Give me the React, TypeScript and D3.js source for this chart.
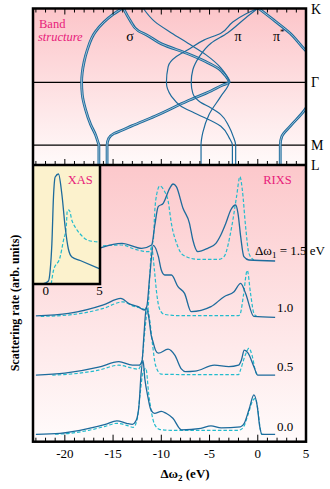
import React from "react";
import * as d3 from "d3";

const W = 330;
const H = 489;

// ---------- axis values ----------
const energyDomain = [-23.3, 5.0];
const majorTicks = [-20, -15, -10, -5, 0, 5];
const minorTicks = d3.range(-23, 6);
const insetDomain = [-1.2, 5.05];
const insetTickLabels = [0, 5];

// k-path: K=0, Γ=1, M=1.85, L=2.12
const kPointLabels = ["K", "Γ", "M", "L"];
const kPointValues = [0, 1, 1.85, 2.12];

// ---------- band structure [k, E(eV)] ----------
const bandSigma1: [number, number][] = [[0, -14.08], [0.074, -14.93], [0.313, -16.82], [0.56, -17.67], [0.72, -18.0], [1.0, -18.26], [1.17, -18.19], [1.37, -17.85], [1.57, -17.33], [1.71, -16.82], [1.82, -16.54], [1.85, -16.47], [2.12, -16.47]];
const bandSigma2: [number, number][] = [[0, -13.91], [0.155, -13.26], [0.304, -12.37], [0.358, -11.52], [0.479, -9.98], [0.614, -7.24], [0.722, -5.36], [0.817, -4.03], [0.898, -3.42], [1.0, -2.97], [1.036, -3.62], [1.117, -4.85], [1.25, -7.24], [1.46, -10.67], [1.59, -13.06], [1.65, -14.08], [1.695, -14.93], [1.76, -15.45], [1.85, -15.62], [2.12, -15.62]];
const bandSigma3: [number, number][] = [[0, -11.86], [0.178, -10.67], [0.331, -8.95], [0.47, -7.24], [0.628, -5.36], [0.803, -3.83], [1.0, -2.97], [1.19, -3.83], [1.438, -5.06], [1.681, -5.7], [1.85, -5.88], [2.12, -5.88]];
const bandPiA: [number, number][] = [[0, -0.03], [0.074, -1.26], [0.182, -2.59], [0.335, -3.83], [0.425, -5.54], [0.56, -7.24], [0.651, -8.44], [0.786, -9.29], [1.0, -9.47], [1.19, -8.95], [1.326, -7.92], [1.415, -6.56], [1.596, -3.83], [1.749, -2.97], [1.85, -2.63], [2.12, -2.63]];
const bandPiB: [number, number][] = [[0, 0.0], [0.128, -1.26], [0.331, -3.14], [0.47, -4.85], [0.651, -6.05], [0.83, -6.73], [1.0, -6.9], [1.15, -6.73], [1.259, -6.05], [1.348, -4.85], [1.438, -3.83], [1.596, -3.0], [1.735, -2.54], [1.85, -2.29], [2.12, -2.29]];
const bandPiStar1: [number, number][] = [[0, 0.1], [0.155, 1.64], [0.335, 3.35], [0.56, 4.89], [0.65, 5.6]];
const bandPiStar2: [number, number][] = [[1.25, 5.4], [1.37, 4.89], [1.596, 3.35], [1.731, 2.5], [1.85, 2.33], [2.12, 2.33]];

// ---------- RIXS spectra [Δω2 (eV), intensity] ----------
const excitationLabels = ["0.0", "0.5", "1.0"];
const spectrumOffsets = [7.4, 66.5, 125.3, 181];
const rixs00Solid: [number, number][] = [[-23.0, 0], [-20.5, 1], [-17.5, 6], [-15.8, 10], [-14.6, 13.5], [-13.6, 11], [-13.0, 10], [-12.6, 14], [-12.3, 30], [-12.1, 60], [-11.9, 74], [-11.7, 55], [-11.4, 38], [-11.1, 25], [-10.7, 21], [-10.0, 23], [-9.5, 21], [-8.8, 16], [-7.9, 4.5], [-5.9, 6], [-4.85, 8.5], [-3.8, 6.5], [-1.8, 7.5], [-1.4, 11], [-0.9, 25], [-0.4, 39.5], [-0.05, 28], [0.2, 8], [0.45, 0], [1.8, 0]];
const rixs00Dashed: [number, number][] = [[-21, 0], [-19.5, 1], [-17.5, 4], [-15.8, 8], [-14.6, 11], [-13.6, 9], [-12.9, 7], [-12.5, 15], [-12.2, 40], [-11.9, 62], [-11.6, 66], [-11.3, 40], [-11.0, 21], [-10.7, 10], [-10.2, 5], [-9.0, 4], [-5.0, 4], [-2.0, 4], [-1.5, 7], [-1.0, 20], [-0.5, 34], [-0.25, 36], [0.0, 25], [0.25, 6], [0.4, 0], [0.6, 0]];
const rixs05Solid: [number, number][] = [[-23.0, 0], [-20.0, 2], [-16.5, 8], [-14.4, 13.5], [-13.0, 10], [-12.3, 10], [-12.0, 14], [-11.8, 40], [-11.55, 68], [-11.3, 58], [-11.05, 40], [-10.85, 33], [-10.6, 25], [-10.3, 22], [-9.3, 26], [-8.6, 20], [-7.9, 6], [-7.5, 3.5], [-6.5, 4], [-4.5, 10], [-3.0, 8.5], [-2.0, 10], [-1.7, 15], [-1.4, 25], [-1.0, 22], [-0.4, 8.5], [0.0, 0], [1.8, 0]];
const rixs05Dashed: [number, number][] = [[-21.3, 0], [-18.5, 2], [-16.5, 5], [-14.4, 10], [-13.0, 7], [-12.4, 6], [-12.0, 15], [-11.7, 45], [-11.4, 66], [-11.2, 55], [-10.9, 30], [-10.6, 10], [-10.0, 1], [-6.0, 0.5], [-2.0, 0.5], [-1.8, 5], [-1.3, 20], [-0.9, 27], [-0.6, 20], [-0.2, 3], [0.0, 0]];
const rixs10Solid: [number, number][] = [[-23.0, 0.5], [-19.6, 3], [-16.0, 11.5], [-14.2, 18], [-13.3, 12.5], [-12.4, 9.7], [-11.75, 6.4], [-11.5, 10], [-11.2, 40], [-10.83, 71], [-10.3, 59.7], [-10.0, 46.4], [-9.64, 41.4], [-8.95, 41.4], [-8.27, 29.7], [-7.59, 23], [-6.9, 4.7], [-4.85, 9.7], [-3.49, 19.7], [-2.46, 24.7], [-1.77, 33], [-1.26, 23], [-0.41, 0], [1.8, -1]];
const rixs10Dashed: [number, number][] = [[-22.5, 0], [-19.5, 1.5], [-16.0, 8], [-14.0, 14.5], [-12.8, 10], [-12.0, 8], [-11.4, 6], [-11.2, 40], [-11.0, 68], [-10.7, 45], [-10.5, 25], [-10.2, 8], [-9.7, 2], [-8.0, 0.7], [-2.0, 0.7], [-1.8, 3], [-1.5, 20], [-1.09, 46], [-0.75, 23], [-0.4, 3], [-0.1, 0]];
const rixs15Solid: [number, number][] = [[-23, 0], [-20, 3], [-17.5, 8], [-16.13, 13.4], [-14.08, 17.4], [-12.03, 12.4], [-11.0, 15.7], [-10.67, 35.7], [-10.32, 54], [-9.8, 57.4], [-9.13, 72.4], [-8.78, 76.7], [-8.44, 74], [-7.75, 52.4], [-7.08, 37.4], [-6.73, 20.7], [-6.22, 9], [-5.19, 12.4], [-4.34, 17.4], [-3.83, 25.7], [-3.31, 37.4], [-2.8, 50.7], [-2.29, 55.7], [-2.05, 47.4], [-1.77, 24], [-1.44, 4], [-0.92, 0.7], [1.8, -0.3]];
const rixs15Dashed: [number, number][] = [[-22, 0], [-19, 3], [-17, 9], [-16.13, 14.7], [-14.08, 15.7], [-12.72, 11.4], [-11.34, 9], [-10.83, 20.7], [-10.67, 50.7], [-10.49, 65.7], [-10.15, 74.7], [-9.7, 70], [-9.3, 60], [-8.95, 37], [-8.4, 17], [-7.75, 5.7], [-6.2, 1.4], [-4.0, 1.4], [-3.5, 4], [-2.7, 34], [-2.2, 64], [-1.85, 84], [-1.6, 70.7], [-1.26, 34], [-0.92, 7.4], [-0.41, 0.7]];

// ---------- XAS inset [Δω1 (eV), intensity] ----------
const xasSolid: [number, number][] = [[-0.3, 0], [0.24, 3], [0.4, 13.5], [0.56, 40], [0.71, 87], [0.87, 107], [1.18, 110], [1.49, 90], [1.8, 57], [2.1, 35], [2.43, 27], [3.2, 23.5], [5.06, 15]];
const xasDashed: [number, number][] = [[0.5, 0], [0.71, 13.5], [1.33, 27], [1.64, 43.5], [1.9, 57], [2.0, 73.5], [2.17, 74], [2.43, 63.5], [2.73, 57], [3.2, 50], [3.97, 43.5], [5.06, 42]];

// ---------- layout ----------
const L = 33, R = 306, TOP = 8.5, MID = 165, BOT = 441.7;
const INSET_R = 100, INSET_B = 284;
const SOLID = "#1d6b9c";
const DASH = "#22bccd";
const PINK = "#e8207a";
const FONT = "'Liberation Serif', 'Times New Roman', serif";

export default function App() {
  const x = d3.scaleLinear().domain(energyDomain).range([L, R]);
  const k = d3.scaleLinear().domain([0, 2.12]).range([TOP, MID]);
  const y = d3.scaleLinear().domain([0, BOT - MID]).range([BOT, MID]);
  const xi = d3.scaleLinear().domain(insetDomain).range([L, INSET_R]);
  const yi = d3.scaleLinear().domain([0, INSET_B - MID]).range([INSET_B, MID]);

  const bandLine = d3.line<[number, number]>().x((d) => x(d[1])).y((d) => k(d[0])).curve(d3.curveMonotoneY);
  const spec = (off: number) => d3.line<[number, number]>().x((d) => x(d[0])).y((d) => y(d[1] + off)).curve(d3.curveMonotoneX);
  const xasLine = d3.line<[number, number]>().x((d) => xi(d[0])).y((d) => yi(d[1])).curve(d3.curveMonotoneX);

  const doubleBands = [bandSigma1, bandSigma2, bandPiStar1, bandPiStar2];
  const singleBands = [bandSigma3, bandPiA, bandPiB];

  const spectra = [
    [rixs00Solid, rixs00Dashed],
    [rixs05Solid, rixs05Dashed],
    [rixs10Solid, rixs10Dashed],
    [rixs15Solid, rixs15Dashed],
  ];
  const labelY = [431, 371, 312];

  return (
    <svg width={W} height={H} style={{ position: "absolute", left: 0, top: 0, background: "#fff" }} fontFamily={FONT}>
      <defs>
        <linearGradient id="gTop" x1="0" y1="0" x2="0" y2="1">
          <stop offset="0" stopColor="#fcc5c9" />
          <stop offset="1" stopColor="#fffafa" />
        </linearGradient>
        <linearGradient id="gBot" x1="0" y1="0" x2="0" y2="1">
          <stop offset="0" stopColor="#fcc8cb" />
          <stop offset="1" stopColor="#fffbfb" />
        </linearGradient>
        <clipPath id="cTop"><rect x={L} y={TOP} width={R - L} height={MID - TOP} /></clipPath>
        <clipPath id="cBot"><rect x={L} y={MID} width={R - L} height={BOT - MID} /></clipPath>
        <clipPath id="cIn"><rect x={L} y={MID} width={INSET_R - L} height={INSET_B - MID} /></clipPath>
      </defs>

      {/* backgrounds */}
      <rect x={L} y={TOP} width={R - L} height={MID - TOP} fill="url(#gTop)" />
      <rect x={L} y={MID} width={R - L} height={BOT - MID} fill="url(#gBot)" />

      {/* band structure */}
      <g clipPath="url(#cTop)">
        {kPointValues.slice(1, 3).map((kv, i) => (
          <line key={i} x1={L} x2={R} y1={k(kv)} y2={k(kv)} stroke="#000" strokeWidth={1.3} />
        ))}
        {doubleBands.map((b, i) => (
          <g key={"d" + i}>
            <path d={bandLine(b) || ""} fill="none" stroke={SOLID} strokeWidth={2.8} />
            <path d={bandLine(b) || ""} fill="none" stroke="#fff" strokeOpacity={0.7} strokeWidth={0.8} />
          </g>
        ))}
        {singleBands.map((b, i) => (
          <path key={"s" + i} d={bandLine(b) || ""} fill="none" stroke={SOLID} strokeWidth={1.2} />
        ))}
      </g>
      <text x={39} y={28} fill={PINK} fontSize={12.5}>Band</text>
      <text x={38} y={41} fill={PINK} fontSize={12.5} fontStyle="italic">structure</text>
      <text x={130} y={41} fontSize={14} textAnchor="middle">σ</text>
      <text x={238} y={41} fontSize={14} textAnchor="middle">π</text>
      <text x={273} y={41} fontSize={14}>π<tspan dy={-6} fontSize={9}>*</tspan></text>
      {kPointLabels.map((lab, i) => (
        <text key={lab} x={311} y={k(kPointValues[i]) + 5} fontSize={14}>{lab}</text>
      ))}

      {/* top panel ticks */}
      {minorTicks.map((t) => (
        <g key={"tt" + t} stroke="#000" strokeWidth={1}>
          <line x1={x(t)} x2={x(t)} y1={TOP} y2={TOP + (t % 5 === 0 ? 6 : 4)} />
          <line x1={x(t)} x2={x(t)} y1={MID} y2={MID - (t % 5 === 0 ? 6 : 4)} />
        </g>
      ))}

      {/* RIXS spectra */}
      <g clipPath="url(#cBot)">
        {spectra.map(([s, d], i) => (
          <g key={"sp" + i}>
            <path d={spec(spectrumOffsets[i])(d) || ""} fill="none" stroke={DASH} strokeWidth={1.2} strokeDasharray="3.5,2" />
            <path d={spec(spectrumOffsets[i])(s) || ""} fill="none" stroke={SOLID} strokeWidth={1.3} />
          </g>
        ))}
      </g>
      {excitationLabels.map((lab, i) => (
        <text key={lab} x={277} y={labelY[i]} fontSize={13}>{lab}</text>
      ))}
      <text x={255} y={255} fontSize={13}>Δω<tspan dy={3} fontSize={9}>1</tspan><tspan dy={-3}> = 1.5 eV</tspan></text>
      <text x={277.5} y={184} fill={PINK} fontSize={12.5} textAnchor="middle">RIXS</text>

      {/* bottom ticks */}
      {minorTicks.map((t) => (
        <line key={"bt" + t} x1={x(t)} x2={x(t)} y1={BOT} y2={BOT - (t % 5 === 0 ? 7 : 4)} stroke="#000" strokeWidth={1} />
      ))}
      {majorTicks.map((t) => (
        <text key={"bl" + t} x={x(t)} y={458} fontSize={13} textAnchor="middle">{String(t)}</text>
      ))}

      {/* XAS inset */}
      <rect x={L} y={MID} width={INSET_R - L} height={INSET_B - MID} fill="#fcf2cd" />
      <g clipPath="url(#cIn)">
        <path d={xasLine(xasDashed) || ""} fill="none" stroke={DASH} strokeWidth={1.2} strokeDasharray="3.5,2" />
        <path d={xasLine(xasSolid) || ""} fill="none" stroke={SOLID} strokeWidth={1.3} />
      </g>
      <path d={`M${INSET_R},${MID}V${INSET_B}H${L}`} fill="none" stroke="#000" strokeWidth={2.5} />
      <text x={80.3} y={184} fill={PINK} fontSize={12.5} textAnchor="middle">XAS</text>
      {insetTickLabels.map((t) => (
        <text key={"il" + t} x={xi(t)} y={294.5} fontSize={13} textAnchor="middle">{String(t)}</text>
      ))}

      {/* frames */}
      <rect x={L} y={TOP} width={R - L} height={BOT - TOP} fill="none" stroke="#000" strokeWidth={2.5} />
      <line x1={L} x2={R} y1={MID} y2={MID} stroke="#000" strokeWidth={2.5} />

      {/* axis titles */}
      <text x={185} y={478} fontSize={13} fontWeight="bold" textAnchor="middle">Δω<tspan dy={3} fontSize={9}>2</tspan><tspan dy={-3}> (eV)</tspan></text>
      <text transform="translate(19,303) rotate(-90)" fontSize={12} fontWeight="bold" textAnchor="middle">Scattering rate (arb. units)</text>
    </svg>
  );
}
